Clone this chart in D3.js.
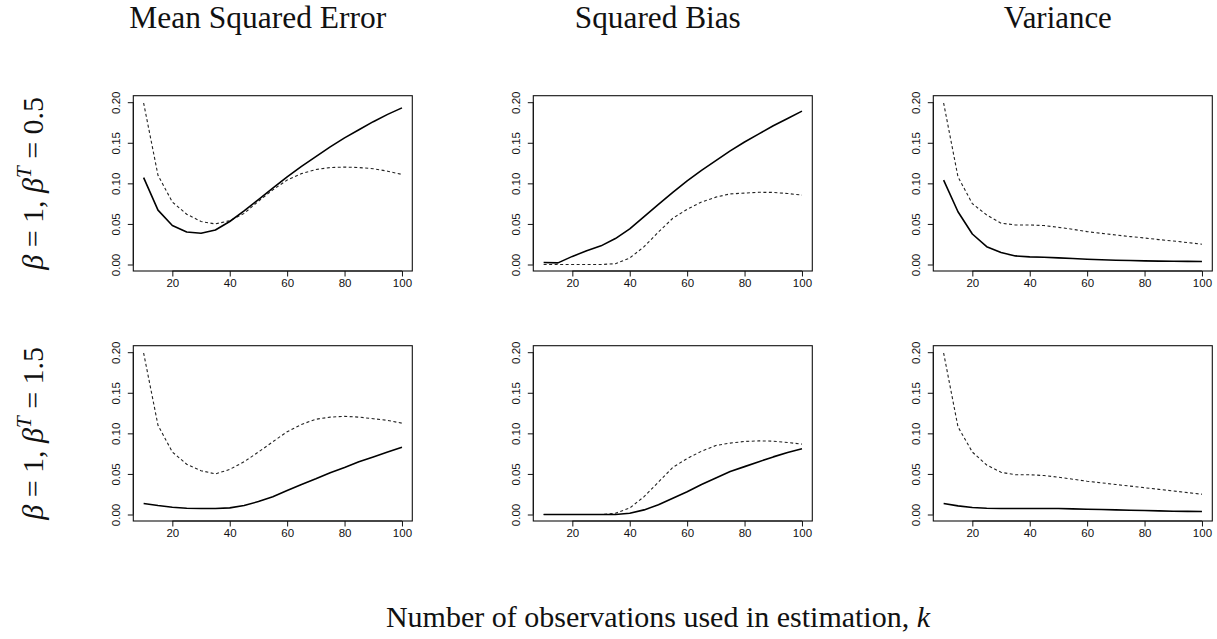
<!DOCTYPE html>
<html>
<head>
<meta charset="utf-8">
<script src="https://cdn.jsdelivr.net/npm/d3@7"></script>
<style>
  html, body { margin: 0; padding: 0; background: #fff; }
  svg { display: block; }
</style>
</head>
<body>
<svg id="chart" width="1217" height="639"></svg>
<script>
// ---------- data ----------
const kValues = [10, 15, 20, 25, 30, 35, 40, 45, 50, 55, 60, 65, 70, 75, 80, 85, 90, 95, 100];

const columnTitles = ["Mean Squared Error", "Squared Bias", "Variance"];
const xTicks = [20, 40, 60, 80, 100];
const yTicks = [0.00, 0.05, 0.10, 0.15, 0.20];
const yTickLabels = ["0.00", "0.05", "0.10", "0.15", "0.20"];
const xAxisTitle = "Number of observations used in estimation, ";

// Row 1: beta = 1, beta^T = 0.5
const mseSolidR1   = [0.107, 0.067, 0.048, 0.040, 0.0385, 0.0425, 0.053, 0.066, 0.080, 0.094, 0.108, 0.121, 0.133, 0.145, 0.156, 0.166, 0.176, 0.185, 0.193];
const mseDashedR1  = [0.199, 0.110, 0.077, 0.062, 0.053, 0.050, 0.054, 0.063, 0.078, 0.092, 0.104, 0.112, 0.117, 0.1195, 0.120, 0.1195, 0.118, 0.115, 0.111];
const biasSolidR1  = [0.0025, 0.002, 0.010, 0.017, 0.023, 0.032, 0.044, 0.059, 0.074, 0.089, 0.103, 0.116, 0.128, 0.140, 0.151, 0.161, 0.171, 0.180, 0.189];
const biasDashedR1 = [0.000, 0.000, 0.000, 0.000, 0.000, 0.001, 0.008, 0.022, 0.040, 0.057, 0.068, 0.077, 0.083, 0.087, 0.088, 0.089, 0.0888, 0.0875, 0.0855];
const varSolidR1   = [0.104, 0.065, 0.0376, 0.022, 0.0147, 0.0106, 0.0094, 0.009, 0.0082, 0.0074, 0.0065, 0.0059, 0.0053, 0.0049, 0.0045, 0.0042, 0.004, 0.0038, 0.0037];
const varDashedR1  = [0.199, 0.108, 0.075, 0.061, 0.051, 0.0487, 0.0487, 0.048, 0.0458, 0.0434, 0.0405, 0.0384, 0.0364, 0.0344, 0.0327, 0.0307, 0.029, 0.027, 0.025];

// Row 2: beta = 1, beta^T = 1.5
const mseSolidR2   = [0.0135, 0.011, 0.009, 0.0078, 0.0074, 0.0074, 0.0082, 0.011, 0.016, 0.022, 0.0295, 0.037, 0.044, 0.0515, 0.058, 0.065, 0.071, 0.077, 0.083];
const mseDashedR2  = [0.199, 0.110, 0.077, 0.062, 0.054, 0.050, 0.0556, 0.065, 0.077, 0.0896, 0.102, 0.111, 0.1174, 0.120, 0.121, 0.120, 0.118, 0.116, 0.1125];
const biasSolidR2  = [0.000, 0.000, 0.000, 0.000, 0.000, 0.000, 0.0015, 0.0057, 0.012, 0.020, 0.028, 0.037, 0.045, 0.053, 0.059, 0.065, 0.071, 0.0765, 0.081];
const biasDashedR2 = [0.000, 0.000, 0.000, 0.000, 0.000, 0.0015, 0.008, 0.022, 0.040, 0.058, 0.069, 0.078, 0.085, 0.088, 0.090, 0.0907, 0.0904, 0.0888, 0.0867];
const varSolidR2   = [0.0135, 0.0106, 0.0086, 0.0078, 0.0074, 0.0074, 0.0074, 0.0074, 0.0074, 0.007, 0.0065, 0.0061, 0.0057, 0.0053, 0.005, 0.0045, 0.0041, 0.0039, 0.0037];
const varDashedR2  = [0.199, 0.108, 0.077, 0.061, 0.052, 0.049, 0.049, 0.048, 0.046, 0.0435, 0.041, 0.039, 0.037, 0.035, 0.033, 0.031, 0.029, 0.027, 0.025];

const panels = [
  { row: 0, col: 0, solid: mseSolidR1,  dashed: mseDashedR1 },
  { row: 0, col: 1, solid: biasSolidR1, dashed: biasDashedR1 },
  { row: 0, col: 2, solid: varSolidR1,  dashed: varDashedR1 },
  { row: 1, col: 0, solid: mseSolidR2,  dashed: mseDashedR2 },
  { row: 1, col: 1, solid: biasSolidR2, dashed: biasDashedR2 },
  { row: 1, col: 2, solid: varSolidR2,  dashed: varDashedR2 }
];

const rowLabels = [
  { a: "1", b: "0.5" },
  { a: "1", b: "1.5" }
];

// ---------- layout ----------
const svg = d3.select("#chart");
const boxLeft0 = 133.3, colStep = 400, boxW = 279;
const boxTop0 = 95.7, rowStep = 250, boxH = 175.3;
const serif = "'Liberation Serif', 'Times New Roman', serif";
const sans = "'Liberation Sans', Arial, Helvetica, sans-serif";
const tickLen = 5.5;

function fitText(sel, targetWidth) {
  const node = sel.node();
  const w = node.getComputedTextLength();
  const fs = parseFloat(sel.attr("font-size"));
  sel.attr("font-size", (fs * targetWidth / w).toFixed(2));
}

// column titles
const titleWidths = [257, 166, 108];
columnTitles.forEach((t, i) => {
  const cx = boxLeft0 + colStep * i + boxW / 2 - 15;
  const txt = svg.append("text")
    .attr("x", cx).attr("y", 27.5)
    .attr("text-anchor", "middle")
    .attr("font-family", serif)
    .attr("font-size", 30)
    .attr("fill", "#111")
    .text(t);
  fitText(txt, titleWidths[i]);
});

// row labels
rowLabels.forEach((r, i) => {
  const cy = boxTop0 + rowStep * i + boxH / 2;
  const t = svg.append("text")
    .attr("transform", `translate(43,${cy}) rotate(-90)`)
    .attr("text-anchor", "middle")
    .attr("font-family", serif)
    .attr("font-size", 30)
    .attr("fill", "#111");
  t.append("tspan").attr("font-style", "italic").text("β");
  t.append("tspan").text(` = ${r.a}, `);
  t.append("tspan").attr("font-style", "italic").text("β");
  t.append("tspan").attr("font-style", "italic").attr("font-size", 21).attr("dy", -12).text("T");
  t.append("tspan").attr("dy", 12).text(` = ${r.b}`);
});

// bottom title
const bt = svg.append("text")
  .attr("x", 658).attr("y", 627)
  .attr("text-anchor", "middle")
  .attr("font-family", serif)
  .attr("font-size", 30)
  .attr("fill", "#111");
bt.append("tspan").text(xAxisTitle);
bt.append("tspan").attr("font-style", "italic").text("k");

// panels
panels.forEach(p => {
  const left = boxLeft0 + colStep * p.col;
  const top = boxTop0 + rowStep * p.row;
  const x = d3.scaleLinear().domain([6.4, 103.6]).range([left, left + boxW]);
  const y = d3.scaleLinear().domain([-0.008, 0.208]).range([top + boxH, top]);
  const g = svg.append("g");

  // x axis
  const xAxis = d3.axisBottom(x).tickValues(xTicks).tickSize(tickLen).tickPadding(2.5).tickFormat(d3.format("d"));
  const gx = g.append("g").attr("transform", `translate(0,${top + boxH})`).call(xAxis);
  gx.select(".domain").attr("d", `M${x(xTicks[0])},0H${x(xTicks[xTicks.length - 1])}`);
  gx.selectAll("text").attr("font-family", sans).attr("font-size", 11.5).attr("fill", "#111");
  gx.selectAll("line, path").attr("stroke", "#111");

  // y axis (labels parallel to axis, as in R)
  const yAxis = d3.axisLeft(y).tickValues(yTicks).tickSize(tickLen).tickFormat((d, i) => yTickLabels[i]);
  const gy = g.append("g").attr("transform", `translate(${left},0)`).call(yAxis);
  gy.select(".domain").attr("d", `M0,${y(yTicks[0])}V${y(yTicks[yTicks.length - 1])}`);
  gy.selectAll("line, path").attr("stroke", "#111");
  gy.selectAll(".tick text")
    .attr("x", null).attr("dy", null)
    .attr("transform", "translate(-13.5,0) rotate(-90)")
    .attr("text-anchor", "middle")
    .attr("font-family", sans).attr("font-size", 11.5).attr("fill", "#111");

  // box
  g.append("rect")
    .attr("x", left).attr("y", top).attr("width", boxW).attr("height", boxH)
    .attr("fill", "none").attr("stroke", "#111").attr("stroke-width", 1.1);

  const line = d3.line().x((d, i) => x(kValues[i])).y(d => y(d));

  g.append("path").datum(p.dashed)
    .attr("d", line).attr("fill", "none")
    .attr("stroke", "#222").attr("stroke-width", 1.1)
    .attr("stroke-dasharray", "3,2.5");

  g.append("path").datum(p.solid)
    .attr("d", line).attr("fill", "none")
    .attr("stroke", "#000").attr("stroke-width", 1.6)
    .attr("stroke-linejoin", "round");
});
</script>
</body>
</html>
